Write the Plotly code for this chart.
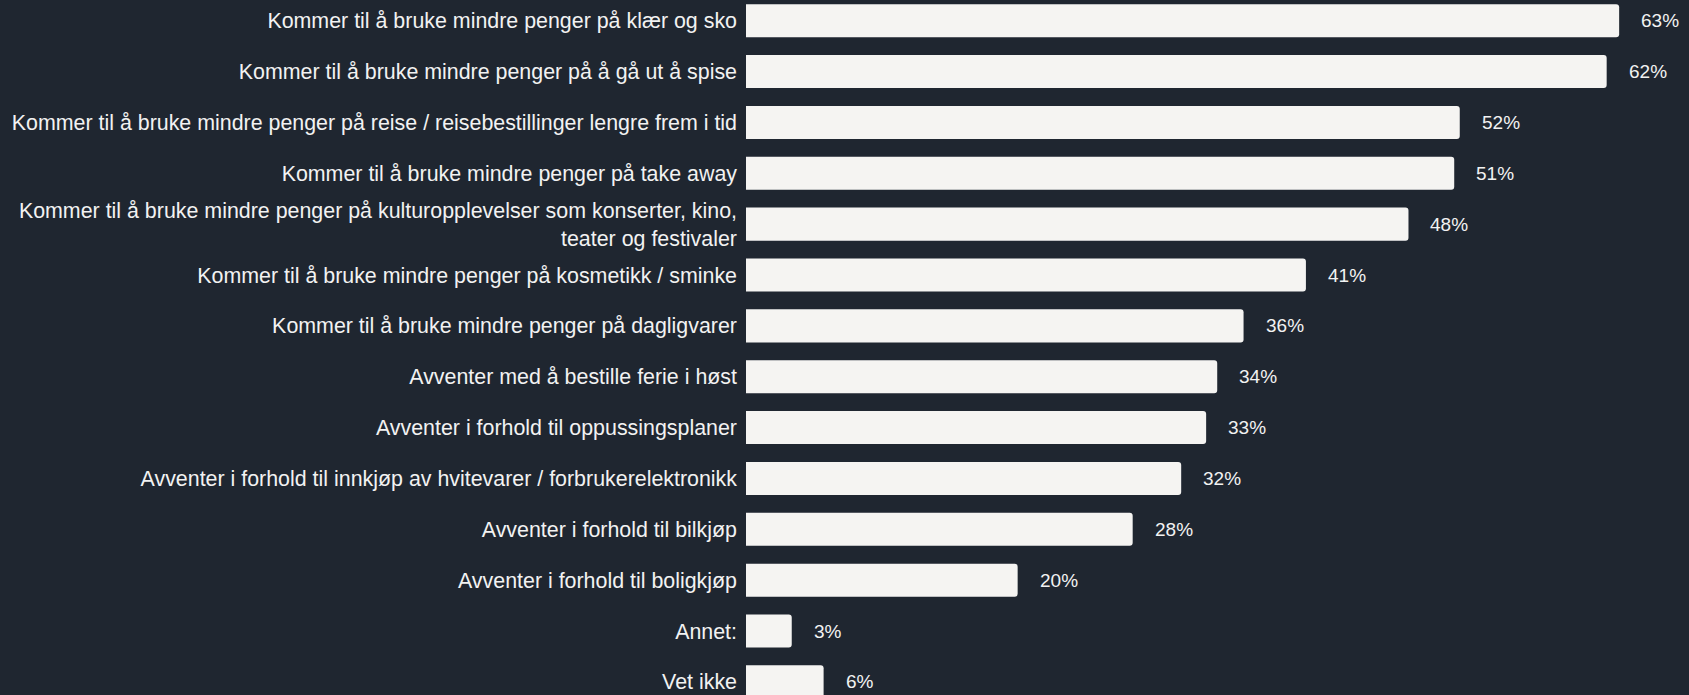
import plotly.graph_objects as go

categories = [
    "Kommer til å bruke mindre penger på klær og sko",
    "Kommer til å bruke mindre penger på å gå ut å spise",
    "Kommer til å bruke mindre penger på reise / reisebestillinger lengre frem i tid",
    "Kommer til å bruke mindre penger på take away",
    "Kommer til å bruke mindre penger på kulturopplevelser som konserter, kino,<br>teater og festivaler",
    "Kommer til å bruke mindre penger på kosmetikk / sminke",
    "Kommer til å bruke mindre penger på dagligvarer",
    "Avventer med å bestille ferie i høst",
    "Avventer i forhold til oppussingsplaner",
    "Avventer i forhold til innkjøp av hvitevarer / forbrukerelektronikk",
    "Avventer i forhold til bilkjøp",
    "Avventer i forhold til boligkjøp",
    "Annet:",
    "Vet ikke",
]
values = [63.0, 62.1, 51.5, 51.1, 47.8, 40.4, 35.9, 34.0, 33.2, 31.4, 27.9, 19.6, 3.3, 5.6]
value_labels = ["63%", "62%", "52%", "51%", "48%", "41%", "36%", "34%", "33%", "32%", "28%", "20%", "3%", "6%"]

BG = "#1f2630"
BAR = "#f5f4f2"
TXT = "#f2f2f2"
FONT = "Arial, 'Liberation Sans', sans-serif"

fig = go.Figure()
fig.add_trace(go.Bar(
    x=values, y=categories, orientation="h",
    marker=dict(color=BAR, line=dict(width=0)),
    hoverinfo="skip",
))

for c, v, t in zip(categories, values, value_labels):
    fig.add_annotation(x=v, y=c, text=t, xref="x", yref="y",
                       xanchor="left", yanchor="middle", xshift=20,
                       showarrow=False, font=dict(size=19, color=TXT, family=FONT))

n = len(categories)
fig.update_layout(
    width=1689, height=695,
    margin=dict(l=746, r=0, t=0, b=0, pad=0),
    paper_bgcolor=BG, plot_bgcolor=BG,
    bargap=0.35, barcornerradius=3,
    showlegend=False,
    font=dict(family=FONT, color=TXT, size=21.4),
    xaxis=dict(range=[0, 68.04], visible=False, showgrid=False, zeroline=False, fixedrange=True),
    yaxis=dict(
        categoryorder="array", categoryarray=categories,
        range=[n - 1 + 0.258, -0.407],
        showgrid=False, zeroline=False, showline=False,
        ticks="", ticklabelstandoff=8,
        tickfont=dict(size=21.4, color=TXT, family=FONT),
    ),
)

fig.write_html(
    "out.html",
    config={"displayModeBar": False},
    post_script="document.body.style.margin='0';document.body.style.background='%s';" % BG,
)
